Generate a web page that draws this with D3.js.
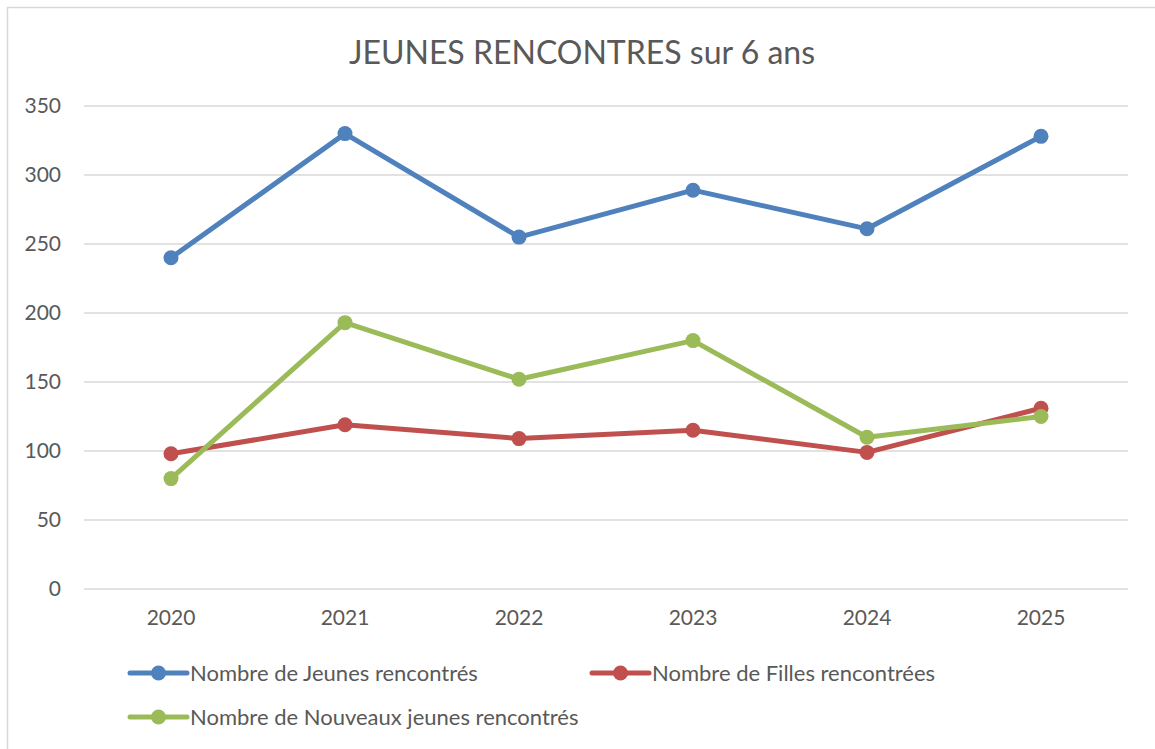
<!DOCTYPE html>
<html>
<head>
<meta charset="utf-8">
<script src="https://cdn.jsdelivr.net/npm/d3@7"></script>
<style>
  body { margin: 0; background: #fff; }
  svg { font-family: Lato, "Open Sans", sans-serif; }
</style>
</head>
<body>
<div id="chart"></div>
<script>
// données
const years = ["2020", "2021", "2022", "2023", "2024", "2025"];
const jeunes = [240, 330, 255, 289, 261, 328];
const filles = [98, 119, 109, 115, 99, 131];
const nouveaux = [80, 193, 152, 180, 110, 125];
const yTicks = [0, 50, 100, 150, 200, 250, 300, 350];

const series = [
  { name: "Nombre de Jeunes rencontrés", values: jeunes, color: "#4F81BD" },
  { name: "Nombre de Filles rencontrées", values: filles, color: "#C0504D" },
  { name: "Nombre de Nouveaux jeunes rencontrés", values: nouveaux, color: "#9BBB59" }
];

const width = 1155, height = 749;
const plot = { left: 84, right: 1128, top: 106, bottom: 589 };

const svg = d3.select("#chart").append("svg")
  .attr("width", width)
  .attr("height", height);

// cadre du graphique
svg.append("rect")
  .attr("x", 7.5).attr("y", 7.5)
  .attr("width", width).attr("height", height)
  .attr("fill", "#fff")
  .attr("stroke", "#D9D9D9")
  .attr("stroke-width", 1.5);

svg.append("text")
  .attr("x", 582).attr("y", 64)
  .attr("text-anchor", "middle")
  .attr("fill", "#595959")
  .attr("font-size", 32)
  .text("JEUNES RENCONTRES sur 6 ans");

const x = d3.scaleBand().domain(years).range([plot.left, plot.right]);
const y = d3.scaleLinear().domain([0, 350]).range([plot.bottom, plot.top]);

// lignes de grille
svg.append("g")
  .selectAll("line")
  .data(yTicks)
  .join("line")
  .attr("x1", plot.left).attr("x2", plot.right)
  .attr("y1", d => y(d)).attr("y2", d => y(d))
  .attr("stroke", "#D9D9D9")
  .attr("stroke-width", 1.5);

// axe Y
const yAxis = svg.append("g")
  .attr("transform", `translate(${plot.left},0)`)
  .call(d3.axisLeft(y).tickValues(yTicks).tickSize(0).tickPadding(23));
yAxis.select(".domain").remove();
yAxis.selectAll("text")
  .attr("fill", "#595959")
  .attr("font-size", 21)
  .attr("font-family", "Lato, 'Open Sans', sans-serif");

// axe X
const xAxis = svg.append("g")
  .attr("transform", `translate(0,${plot.bottom})`)
  .call(d3.axisBottom(x).tickSize(0).tickPadding(21));
xAxis.select(".domain").remove();
xAxis.selectAll("text")
  .attr("fill", "#595959")
  .attr("font-size", 21)
  .attr("font-family", "Lato, 'Open Sans', sans-serif");

const cx = d => x(d) + x.bandwidth() / 2;

const line = d3.line()
  .x((d, i) => cx(years[i]))
  .y(d => y(d));

series.forEach(s => {
  const g = svg.append("g");
  g.append("path")
    .datum(s.values)
    .attr("d", line)
    .attr("fill", "none")
    .attr("stroke", s.color)
    .attr("stroke-width", 5)
    .attr("stroke-linejoin", "round");
  g.selectAll("circle")
    .data(s.values)
    .join("circle")
    .attr("cx", (d, i) => cx(years[i]))
    .attr("cy", d => y(d))
    .attr("r", 7.5)
    .attr("fill", s.color);
});

// légende
const legendPos = [
  { x: 130, y: 673 },
  { x: 592, y: 673 },
  { x: 130, y: 717 }
];

series.forEach((s, i) => {
  const p = legendPos[i];
  const g = svg.append("g").attr("transform", `translate(${p.x},${p.y})`);
  g.append("line")
    .attr("x1", 0).attr("x2", 57)
    .attr("stroke", s.color)
    .attr("stroke-width", 5)
    .attr("stroke-linecap", "round");
  g.append("circle")
    .attr("cx", 28.5).attr("r", 7.5)
    .attr("fill", s.color);
  g.append("text")
    .attr("x", 60).attr("y", 8)
    .attr("fill", "#595959")
    .attr("font-size", 22)
    .text(s.name);
});
</script>
</body>
</html>
